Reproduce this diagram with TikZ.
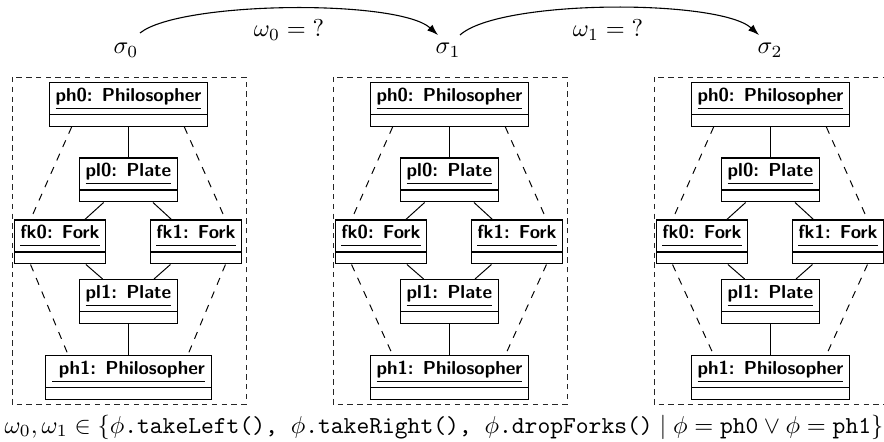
\documentclass[tikz,border=0pt]{standalone}
\usetikzlibrary{calc,arrows.meta}
\newcommand{\objname}[1]{\underline{\vphantom{p}#1}}
\begin{document}
\begin{tikzpicture}[x=0.41pt,y=-0.41pt,
  obj/.style={draw, rectangle, line width=0.45pt,
    inner xsep=2.6pt, inner ysep=0pt, text height=7.6pt, text depth=10.4pt,
    font=\fontsize{7.7}{8}\selectfont\sffamily\bfseries, anchor=north,
    path picture={\draw[line width=0.45pt]
      ([yshift=-13.1pt]path picture bounding box.north west) --
      ([yshift=-13.1pt]path picture bounding box.north east);}},
  lnk/.style={line width=0.4pt},
  dlnk/.style={line width=0.4pt, dash pattern=on 3pt off 3pt},
  frame/.style={draw=black!85, line width=0.4pt, dash pattern=on 2.2pt off 1.8pt},
  arc/.style={line width=0.45pt, -{Latex[length=4.5pt,width=3.2pt]}},
]
\useasboundingbox (0,0) rectangle (884,442);

% states and transitions
\node (s0) at (126,50) {$\sigma_0$};
\node (s1) at (448,50) {$\sigma_1$};
\node (s2) at (770,50) {$\sigma_2$};
\node (w0) at (289,30) {$\omega_0 = {?}$};
\node (w1) at (608,30) {$\omega_1 = {?}$};
\draw[arc] ($(s0)+(14,-17)$) .. controls +(40,-32) and +(-40,-36) .. ($(s1)+(-10,-15)$);
\draw[arc] ($(s1)+(12,-15)$) .. controls +(40,-36) and +(-40,-36) .. ($(s2)+(-11,-15)$);

% object diagrams
\foreach \cx/\p/\phone in {128.5/a/{\ ph1: Philosopher}, 449.5/b/{ph1: Philosopher}, 770.5/c/{ph1: Philosopher}}{
  \draw[frame] (\cx-116.5,77) rectangle (\cx+117.5,404);
  \node[obj] (ph0\p) at (\cx,82) {\objname{ph0: Philosopher}};
  \node[obj] (pl0\p) at (\cx,157.5) {\objname{pl0: Plate}};
  \node[obj] (fk0\p) at (\cx-68.5,219.5) {\objname{fk0: Fork}};
  \node[obj] (fk1\p) at (\cx+67.5,219.5) {\objname{fk1: Fork}};
  \node[obj] (pl1\p) at (\cx,279) {\objname{pl1: Plate}};
  \node[obj] (ph1\p) at (\cx,355) {\objname{\phone}};
  \draw[lnk] (ph0\p) -- (pl0\p);
  \draw[lnk] (pl0\p) -- (fk0\p);
  \draw[lnk] (pl0\p) -- (fk1\p);
  \draw[lnk] (fk0\p) -- (pl1\p);
  \draw[lnk] (fk1\p) -- (pl1\p);
  \draw[lnk] (pl1\p) -- (ph1\p);
  \draw[dlnk] ($(ph0\p.south west)+(23,0)$) -- ($(fk0\p.north west)+(17,0)$);
  \draw[dlnk] ($(ph0\p.south east)+(-24,0)$) -- ($(fk1\p.north east)+(-17,0)$);
  \draw[dlnk] ($(fk0\p.south west)+(17,0)$) -- ($(ph1\p.north west)+(23,0)$);
  \draw[dlnk] ($(fk1\p.south east)+(-17,0)$) -- ($(ph1\p.north east)+(-24,0)$);
}

\node (formula) at (444,427) {$\omega_0,\omega_1\in\{\phi\texttt{.takeLeft(), }\phi\texttt{.takeRight(), }\phi\texttt{.dropForks()}\mid\phi=\texttt{ph0}\vee\phi=\texttt{ph1}\}$};
\end{tikzpicture}
\end{document}
